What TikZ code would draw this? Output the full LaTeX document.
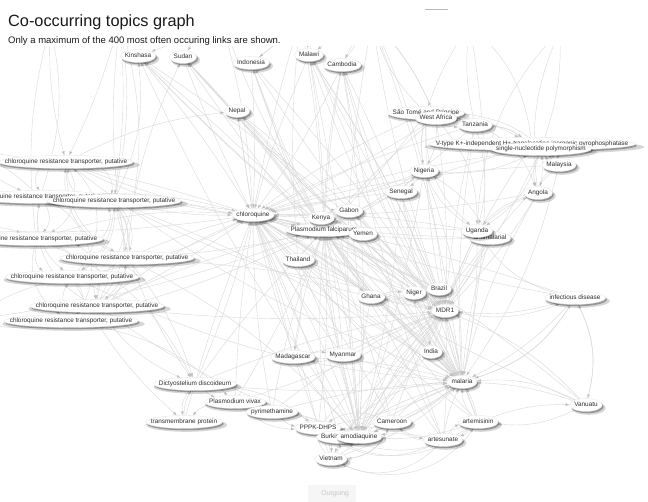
\documentclass[tikz,border=0pt]{standalone}
\usepackage{fontspec}
\setmainfont{Liberation Sans}
\usetikzlibrary{shapes.geometric,shadows,calc,arrows.meta,backgrounds}
\tikzset{
 nodefont/.style={font=\fontsize{6.4}{7}\selectfont},
 lblm/.style={nodefont, inner sep=0pt, text height=4.6pt, text depth=1.4pt},
 lbl/.style={nodefont, inner sep=0pt, text height=4.6pt, text depth=1.4pt, text=black!82},
 ellbox/.style={ellipse, inner sep=0pt, fill=white, draw=gray!20, line width=.3pt,
   drop shadow={shadow xshift=2.4pt, shadow yshift=-2.8pt, opacity=.16, fill=black, shadow scale=1.06},
   drop shadow={shadow xshift=1.4pt, shadow yshift=-1.8pt, opacity=.3, fill=black}},
 edg/.style={draw=gray!30, line width=.4pt, -{Latex[length=4pt,width=2.8pt,color=gray!50]}}
}
\newcommand\gn[3]{%
  \node[lblm] (#1m) at (#2) {\phantom{#3}};
  \path let \p1=($(#1m.east)-(#1m.west)$), \p2=($(#1m.north)-(#1m.south)$) in
    node[ellbox, minimum width={\x1*1.03+8pt}, minimum height={\y2+6.5pt}] (#1) at (#1m.center) {};
  \node[lbl] (#1t) at (#1m.center) {#3};
}
\begin{document}
\begin{tikzpicture}[x=1pt,y=-1pt]
\useasboundingbox (0,0) rectangle (648,502);
% header
\node[anchor=base west, inner sep=0pt, font=\fontsize{16.3}{18}\selectfont, text=black!90] (title) at (8,26.5) {Co-occurring topics graph};
\node[anchor=base west, inner sep=0pt, font=\fontsize{9.5}{11}\selectfont, text=black!90] (sub) at (8,44) {Only a maximum of the 400 most often occuring links are shown.};
\coordinate (tl1) at (425,10); \coordinate (tl2) at (448,10);
\draw[gray!55, line width=1pt] (tl1) -- (tl2);
% nodes
\gn{kin}{138,56}{Kinshasa}
\gn{sud}{183,57}{Sudan}
\gn{ind}{251,63}{Indonesia}
\gn{mal}{309,55}{Malawi}
\gn{cam}{342,65}{Cambodia}
\gn{nep}{237,111}{Nepal}
\gn{sao}{426,113}{São Tomé and Príncipe}
\gn{wa}{436,118}{West Africa}
\gn{tan}{475,125}{Tanzania}
\gn{vty}{532,144}{V-type K+-independent H+-translocating inorganic pyrophosphatase}
\gn{snp}{541,149}{single-nucleotide polymorphism}
\gn{mys}{559,165}{Malaysia}
\gn{nig}{424,171}{Nigeria}
\gn{sen}{401,192}{Senegal}
\gn{ang}{538,193}{Angola}
\gn{cq}{253,215}{chloroquine}
\gn{gab}{349,211}{Gabon}
\gn{pf}{324,230}{Plasmodium falciparum}
\gn{ken}{321,218}{Kenya}
\gn{yem}{363,234}{Yemen}
\gn{tha}{298,260}{Thailand}
\gn{anti}{490,238}{antimalarial}
\gn{uga}{477,231}{Uganda}
\gn{gha}{371,297}{Ghana}
\gn{ngr}{414,293}{Niger}
\gn{bra}{439,289}{Brazil}
\gn{mdr}{445,311}{MDR1}
\gn{inf}{575,298}{infectious disease}
\gn{mad}{293,357}{Madagascar}
\gn{mya}{343,355}{Myanmar}
\gn{indi}{431,352}{India}
\gn{mla}{462,382}{malaria}
\gn{van}{586,405}{Vanuatu}
\gn{dic}{195,384}{Dictyostelium discoideum}
\gn{tmp}{184,422}{transmembrane protein}
\gn{pv}{235,402}{Plasmodium vivax}
\gn{pyr}{272,412}{pyrimethamine}
\gn{ppp}{318,428}{PPPK-DHPS}
\gn{bur}{340,437}{Burkina Faso}
\gn{amo}{359,437}{amodiaquine}
\gn{cmr}{392,422}{Cameroon}
\gn{art}{478,422}{artemisinin}
\gn{ars}{443,440}{artesunate}
\gn{vie}{331,459}{Vietnam}
\gn{crt1}{66,162}{chloroquine resistance transporter, putative}
\gn{crt2}{40,197}{chloroquine resistance transporter, putative}
\gn{crt3}{114,201}{chloroquine resistance transporter, putative}
\gn{crt4}{36,239}{chloroquine resistance transporter, putative}
\gn{crt5}{127,258}{chloroquine resistance transporter, putative}
\gn{crt6}{72,277}{chloroquine resistance transporter, putative}
\gn{crt7}{97,306}{chloroquine resistance transporter, putative}
\gn{crt8}{71,321}{chloroquine resistance transporter, putative}
% button
\node[fill=gray!7, text=gray!45, font=\fontsize{6.8}{8}\selectfont, minimum width=48pt, minimum height=17pt, inner sep=0pt, anchor=north west] (outbtn) at (308,485) {\hspace{6pt}Outgoing};
% off-picture ends
\coordinate (up1) at (372,20); \coordinate (up2) at (300,20); \coordinate (up3) at (220,15);
\coordinate (up4) at (120,20); \coordinate (up5) at (50,25); \coordinate (up6) at (470,25);
\coordinate (up7) at (560,30);
\coordinate (lf1) at (-30,150); \coordinate (lf2) at (-30,230); \coordinate (lf3) at (-30,320);
% edges
\begin{scope}[on background layer]
\fill[white] (0,0) rectangle (648,502);
\clip (0,47) rectangle (648,502);
\foreach \s/\b in {kin/4, sud/-3, ind/3, nep/0, mal/-4, cam/5, sao/-6, wa/4, tan/-5, nig/6, sen/-3, gab/2, ken/0, pf/-3, yem/4, tha/3, gha/-5, ngr/6, bra/-4, mdr/3, mad/-3, mya/5, indi/-6, mla/4, dic/-4, pv/3, pyr/5, ppp/-3, amo/4, cmr/-5, art/6, ars/-4, vie/3, uga/-5, anti/4, mys/-6, ang/5, inf/-4, van/6, snp/-5, vty/4, tmp/3, bur/-3, crt1/-10, crt2/8, crt3/-6, crt4/10, crt5/4, crt6/-8, crt7/6, crt8/-4}
  \draw[edg] (\s) to[bend left=\b] (cq);
\foreach \s/\b in {cq/8, pf/-5, nig/4, sen/-6, gab/5, ken/-4, yem/6, gha/-3, ngr/4, bra/0, indi/-5, mla/6, amo/-8, art/5, ars/-4, cmr/6, uga/-3, anti/4, tha/-6, mya/5, mad/-4, ppp/6, bur/-5, vie/8, sao/-6, wa/5, tan/-4, mal/6, cam/-5, ind/4, crt3/-8, crt5/6, crt7/-5, inf/10, van/-12, ang/6, mys/-8, snp/5, vty/-6, kin/6, sud/-4, nep/5, dic/6, pv/-6, pyr/8}
  \draw[edg] (\s) to[bend left=\b] (mdr);
\foreach \s/\b in {kin/-3, sud/4, ind/-5, nep/3, mal/4, cam/-3, cq/-2, gab/5, yem/-3, tha/4, gha/-5, nig/6, sen/-4, bra/3, mdr/-5, mla/4, amo/-6, art/5, ars/-4, pyr/6, ppp/-5, sao/4, wa/-5, tan/6, uga/-3, anti/4, mad/5, mya/-4, indi/6, crt1/-6, crt3/5, crt5/-4, crt7/6, crt8/-5, dic/4, pv/-3, vie/6, cmr/-4, inf/5, van/-6}
  \draw[edg] (\s) to[bend left=\b] (pf);
\foreach \s/\b in {mdr/5, indi/-4, cq/8, pf/-6, amo/6, art/-10, ars/8, cmr/-5, van/-8, inf/10, uga/6, anti/-6, bra/4, ngr/-5, gha/6, mya/-5, mad/6, tha/-4, vie/-12, bur/8, ppp/-6, nig/10, sen/-8, ken/5, gab/-6, yem/4, ang/-8, mys/10, tan/-6, pyr/6, dic/-5}
  \draw[edg] (\s) to[bend left=\b] (mla);
\foreach \s/\b in {mdr/-6, mla/8, cq/5, pf/-4, art/10, ars/-8, cmr/6, vie/-10, ppp/8, uga/6, anti/-5, nig/4, gha/-6, sen/5, mad/-5, pyr/8, indi/-4, mya/6, ken/-5, gab/6, tha/5, bra/-6}
  \draw[edg] (\s) to[bend left=\b] (amo);
\foreach \s/\t/\b in {vie/ppp/20, vie/bur/-20, ppp/vie/25, pyr/ppp/-15, pv/pyr/10, dic/pv/-10, tmp/dic/15, pv/tmp/-15, dic/tmp/-25, art/van/10, van/art/15, mla/inf/-20, ars/art/20, art/ars/15, cmr/ars/-15, ars/cmr/20, uga/ang/10, ang/snp/-10, mys/snp/15, snp/mys/10, nig/sao/10, tan/wa/-10, sao/tan/-20, uga/nig/15, anti/nig/-15, ang/uga/-15, inf/uga/20, mdr/inf/-15, inf/mla/20, van/mla/-15, cmr/mla/15, art/mla/20, indi/ngr/10, bra/indi/-15, gha/ngr/10, ngr/gha/15, tha/gha/10, mya/mad/15, mad/mya/10, cmr/vie/30, ars/vie/35, art/bur/25, mla/vie/-30, ars/ppp/30, cmr/ppp/-25, art/ppp/35, mla/ppp/20, vie/art/-40, vie/cmr/-30, pyr/bur/15, pv/ppp/-20, dic/ppp/15, tha/mad/10, ken/gab/20, yem/gab/-20, sen/nig/10, nig/sen/10, snp/uga/20, vty/tan/-15, tan/vty/15, snp/ang/-20, mys/ang/-20, vty/mys/25, wa/nig/15, sao/nig/-10, wa/uga/20, sao/uga/-25, tan/uga/15, wa/ang/30, sao/mys/20, sao/vty/10, nig/snp/-15, inf/van/20, van/inf/-20,
  mdr/kin/6, mla/kin/-4, amo/kin/5, pf/sud/-5, mdr/sud/4, mla/sud/6, amo/ind/-4, mdr/ind/5, pf/ind/3, mla/nep/-5, mdr/nep/4, cq/nep/0, mdr/mal/-6, mla/mal/5, amo/mal/-4, pf/cam/5, mdr/cam/-3, mla/cam/6, amo/cam/-6, ars/cam/5, art/mal/-5}
  \draw[edg] (\s) to[bend left=\b] (\t);
\foreach \s/\t/\b in {crt1/crt3/30, crt3/crt1/30, crt1/crt2/-40, crt2/crt4/40, crt4/crt6/-35, crt6/crt8/40, crt3/crt5/30, crt5/crt7/-30, crt7/crt8/35, crt8/crt6/30, crt4/crt3/-25, crt2/crt5/35, crt6/crt3/-30, crt1/crt4/45, crt5/crt6/20, crt7/crt4/-40, crt8/crt5/-30, crt2/crt8/50, crt3/crt7/40, crt6/crt1/-45, crt5/crt1/35, crt4/crt7/30, crt8/crt3/-40, crt7/crt2/35, crt3/crt6/25, crt1/crt5/-30, crt2/crt6/-30, crt4/crt8/-35,
  crt3/dic/-10, crt5/dic/10, crt7/dic/-15, crt8/pv/15, crt6/tmp/-10, crt4/dic/20, crt1/mla/-8, crt5/amo/10, crt7/amo/-8, crt3/mla/6, crt6/mla/-10, crt1/nep/10, crt3/kin/-15, crt5/sud/10}
  \draw[edg] (\s) to[bend left=\b] (\t);
\foreach \s/\t/\b in {mdr/up1/5, mla/up1/-6, amo/up1/8, wa/up1/-10, sao/up1/15, nig/up1/-5, cam/up1/0, cq/up2/3, pf/up2/-4, mdr/up2/6, ind/up2/-5, pf/up3/5, cq/up3/-6, crt3/up4/-10, crt5/up4/8, crt2/up5/-15, crt4/up5/10, vty/up6/-20, tan/up6/10, uga/up7/20, snp/up7/-10, mla/up6/-10, ang/up7/15, tha/up2/5, crt7/up4/-20,
  up1/cam/-8, up2/mal/6, up1/mal/-5, up3/kin/8, up3/sud/-6, up2/ind/5, up6/sao/-8, up1/wa/10, up4/crt1/5, up5/crt1/-8, up4/crt3/6,
  crt1/lf1/10, crt2/lf1/-10, crt4/lf2/8, crt6/lf3/-10, crt8/lf3/10, lf2/crt4/15, lf1/crt2/-15, cq/lf2/5, cq/lf1/-5, pf/lf3/6}
  \draw[edg] (\s) to[bend left=\b] (\t);
\end{scope}
\end{tikzpicture}
\end{document}
